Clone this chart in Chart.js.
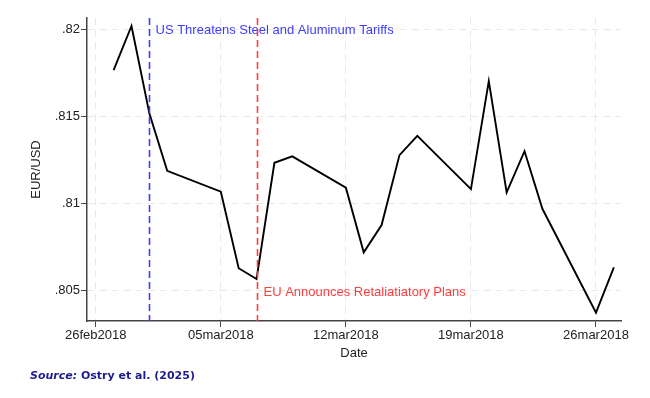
<!DOCTYPE html>
<html>
<head>
<meta charset="utf-8">
<script src="https://cdn.jsdelivr.net/npm/chart.js@4.4.1/dist/chart.umd.min.js"></script>
<style>
  html, body { margin: 0; padding: 0; background: #fff; }
  #wrap { position: relative; width: 650px; height: 398px; }
  #source { position: absolute; left: 30px; top: 369px; font-family: "DejaVu Sans", Verdana, sans-serif;
            font-weight: bold; font-size: 11px; color: #1c1c8f; white-space: nowrap; }
</style>
</head>
<body>
<div id="wrap">
  <canvas id="fxChart" width="650" height="398"></canvas>
  <div id="source"><i>Source:</i> Ostry et al. (2025)</div>
</div>
<script>
// EUR/USD daily, Feb-Mar 2018
var dates = ["2018-02-27","2018-02-28","2018-03-01","2018-03-02","2018-03-05","2018-03-06","2018-03-07",
             "2018-03-08","2018-03-09","2018-03-12","2018-03-13","2018-03-14","2018-03-15","2018-03-16",
             "2018-03-19","2018-03-20","2018-03-21","2018-03-22","2018-03-23","2018-03-26","2018-03-27"];
var eurUsd = [0.81766,0.82019,0.81518,0.81188,0.81068,0.80629,0.80567,
              0.81234,0.81271,0.81091,0.80720,0.80877,0.81278,0.81389,
              0.81083,0.81703,0.81064,0.81301,0.80970,0.80374,0.80634];

var xTickDates = ["2018-02-26","2018-03-05","2018-03-12","2018-03-19","2018-03-26"];
var xTickLabels = ["26feb2018","05mar2018","12mar2018","19mar2018","26mar2018"];
var yTicks = [0.805, 0.81, 0.815, 0.82];
var yTickLabels = [".805", ".81", ".815", ".82"];

var eventDates = ["2018-03-01","2018-03-07"];
var eventLabels = ["US Threatens Steel and Aluminum Tariffs","EU Announces Retaliatiatory Plans"];
var eventColors = ["#3d3dff","#ff3d3d"];

// days since 26feb2018
var base = Date.UTC(2018, 1, 26);
function dayNum(s) {
    var p = s.split("-");
    return (Date.UTC(+p[0], +p[1] - 1, +p[2]) - base) / 86400000;
}

var points = dates.map(function (d, i) { return {x: dayNum(d), y: eurUsd[i]}; });

var eventLines = {
    id: 'eventLines',
    afterDatasetsDraw: function (chart) {
        var ctx = chart.ctx, area = chart.chartArea, xs = chart.scales.x, ys = chart.scales.y;
        eventDates.forEach(function (d, i) {
            var px = Math.round(xs.getPixelForValue(dayNum(d))) + 0.5;
            ctx.save();
            ctx.strokeStyle = eventColors[i];
            ctx.lineWidth = 1.6;
            ctx.setLineDash([7, 4]);
            ctx.beginPath();
            ctx.moveTo(px, area.top);
            ctx.lineTo(px, area.bottom);
            ctx.stroke();
            ctx.restore();
            ctx.save();
            ctx.fillStyle = eventColors[i];
            ctx.font = '13px "Liberation Sans", Arial, sans-serif';
            ctx.textBaseline = 'middle';
            var ty = i == 0 ? ys.getPixelForValue(0.82) + 1 : ys.getPixelForValue(0.805) + 2;
            ctx.fillText(eventLabels[i], px + 6, ty);
            ctx.restore();
        });
    }
};

var tickFont = {family: '"Liberation Sans", Arial, sans-serif', size: 13};

var ctx = document.getElementById("fxChart");
var fxChart = new Chart(ctx, {
    type: 'line',
    data: {
        datasets: [{
            label: "EUR/USD",
            data: points,
            borderColor: "#000",
            borderWidth: 1.9,
            pointRadius: 0,
            tension: 0,
            fill: false
        }]
    },
    options: {
        animation: { duration: 0 },
        responsive: false,
        layout: { padding: { left: 0, right: 29, top: 18, bottom: 0 } },
        plugins: {
            legend: { display: false },
            tooltip: { enabled: false }
        },
        scales: {
            x: {
                type: 'linear',
                min: -0.49,
                max: 29.4,
                afterBuildTicks: function (scale) {
                    scale.ticks = xTickDates.map(function (d) { return {value: dayNum(d)}; });
                },
                afterFit: function (scale) { scale.height = 77; },
                ticks: {
                    autoSkip: false,
                    maxRotation: 0,
                    padding: 1,
                    color: '#222',
                    font: tickFont,
                    callback: function (v) {
                        var i = xTickDates.map(dayNum).indexOf(v);
                        return i >= 0 ? xTickLabels[i] : '';
                    }
                },
                grid: {
                    color: '#e8e8e8',
                    lineWidth: 1,
                    tickColor: '#444',
                    tickLength: 6,
                    tickWidth: 1
                },
                border: { display: true, color: '#444', width: 1.5, dash: [7, 5] },
                title: {
                    display: true,
                    text: 'Date',
                    color: '#222',
                    font: tickFont,
                    padding: { top: 0, bottom: 37 }
                }
            },
            y: {
                min: 0.80326,
                max: 0.82065,
                afterBuildTicks: function (scale) {
                    scale.ticks = yTicks.map(function (v) { return {value: v}; });
                },
                afterFit: function (scale) { scale.width = 87; },
                ticks: {
                    padding: 1,
                    color: '#222',
                    font: tickFont,
                    callback: function (v) {
                        var i = yTicks.indexOf(v);
                        return i >= 0 ? yTickLabels[i] : '';
                    }
                },
                grid: {
                    color: '#e8e8e8',
                    lineWidth: 1,
                    tickColor: '#444',
                    tickLength: 6,
                    tickWidth: 1
                },
                border: { display: true, color: '#444', width: 1.5, dash: [7, 5] },
                title: {
                    display: true,
                    text: 'EUR/USD',
                    color: '#222',
                    font: tickFont,
                    padding: { top: 29, bottom: 0 }
                }
            }
        }
    },
    plugins: [eventLines]
});
</script>
</body>
</html>
